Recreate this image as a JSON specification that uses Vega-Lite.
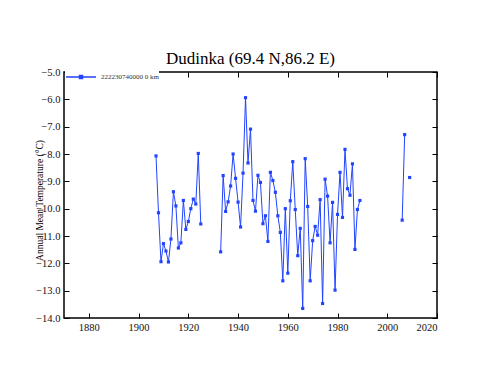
{
  "$schema": "https://vega.github.io/schema/vega-lite/v6.json",
  "autosize": "none",
  "width": 373,
  "height": 246,
  "padding": {"left": 64, "top": 72, "right": 63, "bottom": 68},
  "background": "white",
  "config": {
    "view": {"stroke": "black", "strokeWidth": 1.5},
    "font": "Liberation Serif",
    "axis": {"labelFont": "Liberation Serif", "titleFont": "Liberation Serif"}
  },
  "title": {
    "text": "Dudinka (69.4 N,86.2 E)",
    "font": "Liberation Serif",
    "fontSize": 17,
    "fontWeight": "normal",
    "color": "black",
    "anchor": "middle",
    "baseline": "bottom",
    "offset": -24
  },
  "data": {
    "values": [
      {"year": 1907, "temp": -8.07, "s": "222230740000 0 km"},
      {"year": 1908, "temp": -10.15, "s": "222230740000 0 km"},
      {"year": 1909, "temp": -11.94, "s": "222230740000 0 km"},
      {"year": 1910, "temp": -11.28, "s": "222230740000 0 km"},
      {"year": 1911, "temp": -11.55, "s": "222230740000 0 km"},
      {"year": 1912, "temp": -11.95, "s": "222230740000 0 km"},
      {"year": 1913, "temp": -11.11, "s": "222230740000 0 km"},
      {"year": 1914, "temp": -9.38, "s": "222230740000 0 km"},
      {"year": 1915, "temp": -9.9, "s": "222230740000 0 km"},
      {"year": 1916, "temp": -11.44, "s": "222230740000 0 km"},
      {"year": 1917, "temp": -11.25, "s": "222230740000 0 km"},
      {"year": 1918, "temp": -9.7, "s": "222230740000 0 km"},
      {"year": 1919, "temp": -10.76, "s": "222230740000 0 km"},
      {"year": 1920, "temp": -10.47, "s": "222230740000 0 km"},
      {"year": 1921, "temp": -10.0, "s": "222230740000 0 km"},
      {"year": 1922, "temp": -9.65, "s": "222230740000 0 km"},
      {"year": 1923, "temp": -9.83, "s": "222230740000 0 km"},
      {"year": 1924, "temp": -7.98, "s": "222230740000 0 km"},
      {"year": 1925, "temp": -10.56, "s": "222230740000 0 km"},
      {"year": 1926, "temp": null, "s": "222230740000 0 km"},
      {"year": 1933, "temp": -11.58, "s": "222230740000 0 km"},
      {"year": 1934, "temp": -8.79, "s": "222230740000 0 km"},
      {"year": 1935, "temp": -10.1, "s": "222230740000 0 km"},
      {"year": 1936, "temp": -9.75, "s": "222230740000 0 km"},
      {"year": 1937, "temp": -9.17, "s": "222230740000 0 km"},
      {"year": 1938, "temp": -8.0, "s": "222230740000 0 km"},
      {"year": 1939, "temp": -8.89, "s": "222230740000 0 km"},
      {"year": 1940, "temp": -9.76, "s": "222230740000 0 km"},
      {"year": 1941, "temp": -10.67, "s": "222230740000 0 km"},
      {"year": 1942, "temp": -8.7, "s": "222230740000 0 km"},
      {"year": 1943, "temp": -5.94, "s": "222230740000 0 km"},
      {"year": 1944, "temp": -8.33, "s": "222230740000 0 km"},
      {"year": 1945, "temp": -7.09, "s": "222230740000 0 km"},
      {"year": 1946, "temp": -9.7, "s": "222230740000 0 km"},
      {"year": 1947, "temp": -10.09, "s": "222230740000 0 km"},
      {"year": 1948, "temp": -8.78, "s": "222230740000 0 km"},
      {"year": 1949, "temp": -9.04, "s": "222230740000 0 km"},
      {"year": 1950, "temp": -10.55, "s": "222230740000 0 km"},
      {"year": 1951, "temp": -10.26, "s": "222230740000 0 km"},
      {"year": 1952, "temp": -11.2, "s": "222230740000 0 km"},
      {"year": 1953, "temp": -8.67, "s": "222230740000 0 km"},
      {"year": 1954, "temp": -8.97, "s": "222230740000 0 km"},
      {"year": 1955, "temp": -9.4, "s": "222230740000 0 km"},
      {"year": 1956, "temp": -10.26, "s": "222230740000 0 km"},
      {"year": 1957, "temp": -10.87, "s": "222230740000 0 km"},
      {"year": 1958, "temp": -12.64, "s": "222230740000 0 km"},
      {"year": 1959, "temp": -10.0, "s": "222230740000 0 km"},
      {"year": 1960, "temp": -12.36, "s": "222230740000 0 km"},
      {"year": 1961, "temp": -9.71, "s": "222230740000 0 km"},
      {"year": 1962, "temp": -8.28, "s": "222230740000 0 km"},
      {"year": 1963, "temp": -10.03, "s": "222230740000 0 km"},
      {"year": 1964, "temp": -11.72, "s": "222230740000 0 km"},
      {"year": 1965, "temp": -10.72, "s": "222230740000 0 km"},
      {"year": 1966, "temp": -13.65, "s": "222230740000 0 km"},
      {"year": 1967, "temp": -8.17, "s": "222230740000 0 km"},
      {"year": 1968, "temp": -9.92, "s": "222230740000 0 km"},
      {"year": 1969, "temp": -12.64, "s": "222230740000 0 km"},
      {"year": 1970, "temp": -11.17, "s": "222230740000 0 km"},
      {"year": 1971, "temp": -10.65, "s": "222230740000 0 km"},
      {"year": 1972, "temp": -10.97, "s": "222230740000 0 km"},
      {"year": 1973, "temp": -9.67, "s": "222230740000 0 km"},
      {"year": 1974, "temp": -13.47, "s": "222230740000 0 km"},
      {"year": 1975, "temp": -8.92, "s": "222230740000 0 km"},
      {"year": 1976, "temp": -9.54, "s": "222230740000 0 km"},
      {"year": 1977, "temp": -11.25, "s": "222230740000 0 km"},
      {"year": 1978, "temp": -9.77, "s": "222230740000 0 km"},
      {"year": 1979, "temp": -12.98, "s": "222230740000 0 km"},
      {"year": 1980, "temp": -10.21, "s": "222230740000 0 km"},
      {"year": 1981, "temp": -8.67, "s": "222230740000 0 km"},
      {"year": 1982, "temp": -10.32, "s": "222230740000 0 km"},
      {"year": 1983, "temp": -7.83, "s": "222230740000 0 km"},
      {"year": 1984, "temp": -9.27, "s": "222230740000 0 km"},
      {"year": 1985, "temp": -9.51, "s": "222230740000 0 km"},
      {"year": 1986, "temp": -8.36, "s": "222230740000 0 km"},
      {"year": 1987, "temp": -11.49, "s": "222230740000 0 km"},
      {"year": 1988, "temp": -10.03, "s": "222230740000 0 km"},
      {"year": 1989, "temp": -9.7, "s": "222230740000 0 km"},
      {"year": 1990, "temp": null, "s": "222230740000 0 km"},
      {"year": 2006, "temp": -10.42, "s": "222230740000 0 km"},
      {"year": 2007, "temp": -7.29, "s": "222230740000 0 km"},
      {"year": 2008, "temp": null, "s": "222230740000 0 km"},
      {"year": 2009, "temp": -8.86, "s": "222230740000 0 km"}
    ]
  },
  "layer": [
    {
      "mark": {"type": "line", "color": "#2244ff", "strokeWidth": 1},
      "encoding": {
        "x": {
          "field": "year", "type": "quantitative",
          "scale": {"domain": [1870, 2020], "nice": false, "zero": false},
          "axis": {
            "orient": "bottom",
            "values": [1880, 1900, 1920, 1940, 1960, 1980, 2000, 2020],
            "format": "d", "grid": false, "domain": false,
            "tickSize": -5, "tickColor": "black", "tickWidth": 1,
            "labelFont": "Liberation Serif", "labelFontSize": 10.5, "labelColor": "#111",
            "labelPadding": 9, "title": null
          }
        },
        "y": {
          "field": "temp", "type": "quantitative",
          "scale": {"domain": [-14, -5], "nice": false, "zero": false},
          "axis": {
            "orient": "left",
            "values": [-14, -13, -12, -11, -10, -9, -8, -7, -6, -5],
            "format": ".1f", "grid": false, "domain": false,
            "tickSize": -5, "tickColor": "black", "tickWidth": 1,
            "labelFont": "Liberation Serif", "labelFontSize": 10.5, "labelColor": "#111",
            "labelPadding": 9,
            "title": "Annual Mean Temperature (°C)",
            "titleFont": "Liberation Serif", "titleFontSize": 9.5, "titleFontWeight": "normal",
            "titleColor": "black", "titleX": -25, "titleY": 128, "titleAngle": -90,
            "titleBaseline": "middle", "titleAlign": "center"
          }
        }
      }
    },
    {
      "mark": {"type": "point", "shape": "square", "filled": true, "size": 10, "opacity": 1},
      "encoding": {
        "x": {"field": "year", "type": "quantitative", "axis": null},
        "y": {"field": "temp", "type": "quantitative", "axis": null},
        "color": {
          "field": "s", "type": "nominal",
          "scale": {"range": ["#2244ff"]},
          "legend": {
            "orient": "none", "legendX": 1, "legendY": -11,
            "title": null,
            "symbolType": "M-1,0L1,0M-0.1,-0.1L0.1,-0.1L0.1,0.1L-0.1,0.1Z",
            "symbolSize": 900,
            "symbolStrokeWidth": 1.5,
            "symbolStrokeColor": "#2244ff",
            "symbolFillColor": "#2244ff",
            "labelFont": "Liberation Serif", "labelFontSize": 7, "labelColor": "#333",
            "labelOffset": 4,
            "fillColor": "white",
            "padding": 0
          }
        }
      }
    },
    {
      "mark": {"type": "point", "opacity": 0},
      "encoding": {
        "x": {
          "field": "year", "type": "quantitative",
          "axis": {
            "orient": "top",
            "values": [1880, 1900, 1920, 1940, 1960, 1980, 2000, 2020],
            "labels": false, "grid": false, "domain": false,
            "tickSize": -5, "tickColor": "black", "tickWidth": 1, "title": null
          }
        },
        "y": {
          "field": "temp", "type": "quantitative",
          "axis": {
            "orient": "right",
            "values": [-14, -13, -12, -11, -10, -9, -8, -7, -6, -5],
            "labels": false, "grid": false, "domain": false,
            "tickSize": -5, "tickColor": "black", "tickWidth": 1, "title": null
          }
        }
      }
    }
  ],
  "resolve": {"axis": {"x": "independent", "y": "independent"}}
}
